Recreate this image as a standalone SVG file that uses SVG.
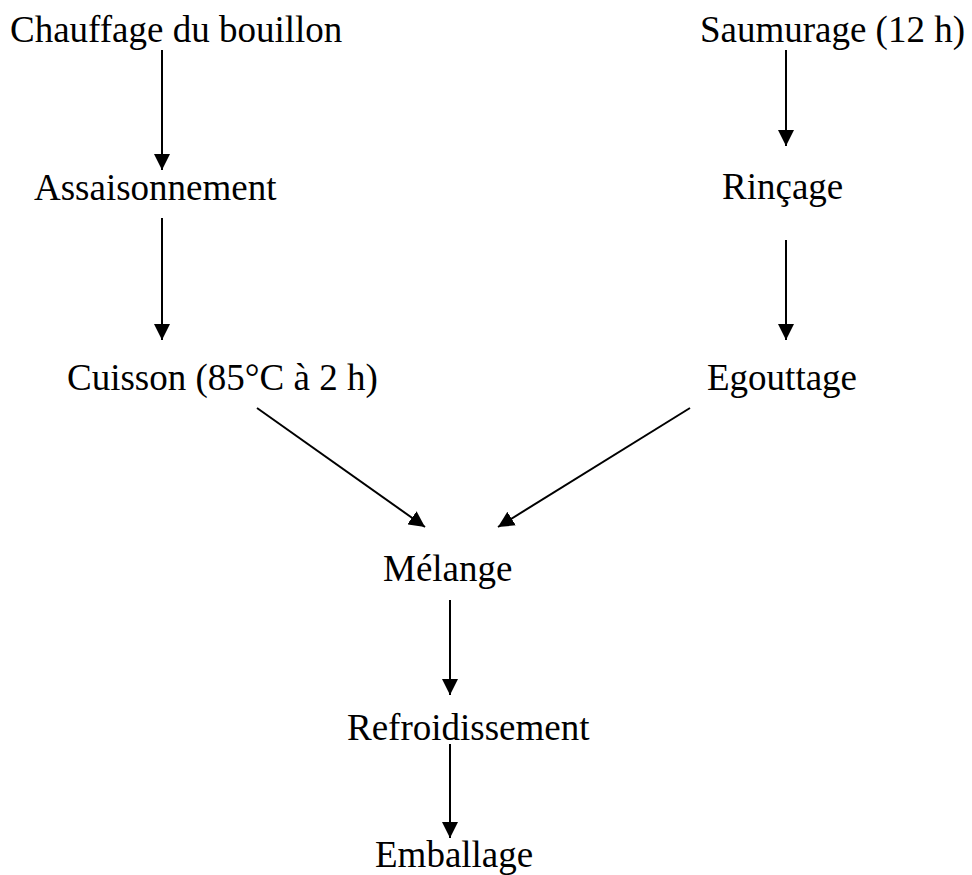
<svg xmlns="http://www.w3.org/2000/svg" width="972" height="875" viewBox="0 0 972 875">
<style>
text{font-family:"Liberation Serif","Times New Roman",serif;font-size:37px;fill:#000}
.c line{stroke:#000;stroke-width:2}
</style>
<defs>
<marker id="ah" viewBox="0 0 16 16" refX="16" refY="8" markerWidth="16" markerHeight="16" markerUnits="userSpaceOnUse" orient="auto">
<path d="M0,0 L16,8 L0,16 Z" fill="#000"/>
</marker>
</defs>
<rect width="972" height="875" fill="#fff"/>
<g id="n1"><text x="10" y="42">Chauffage du bouillon</text></g>
<g id="n2"><text x="965" y="42" text-anchor="end">Saumurage (12 h)</text></g>
<g id="n3"><text x="34" y="200">Assaisonnement</text></g>
<g id="n4"><text x="722" y="199">Rinçage</text></g>
<g id="n5"><text x="67" y="390">Cuisson (85°C à 2 h)</text></g>
<g id="n6"><text x="707" y="390">Egouttage</text></g>
<g id="n7"><text x="383" y="581">Mélange</text></g>
<g id="n8"><text x="347" y="740">Refroidissement</text></g>
<g id="n9"><text x="375" y="867">Emballage</text></g>
<g class="c" id="connectors">
<line x1="162" y1="50" x2="162" y2="170" marker-end="url(#ah)"/>
<line x1="786" y1="50" x2="786" y2="146" marker-end="url(#ah)"/>
<line x1="162" y1="218" x2="162" y2="340" marker-end="url(#ah)"/>
<line x1="786" y1="240" x2="786" y2="340" marker-end="url(#ah)"/>
<line x1="257" y1="408" x2="425" y2="527" marker-end="url(#ah)"/>
<line x1="690" y1="408" x2="498" y2="527" marker-end="url(#ah)"/>
<line x1="450" y1="600" x2="450" y2="695" marker-end="url(#ah)"/>
<line x1="450" y1="744" x2="450" y2="838" marker-end="url(#ah)"/>
</g>
</svg>
